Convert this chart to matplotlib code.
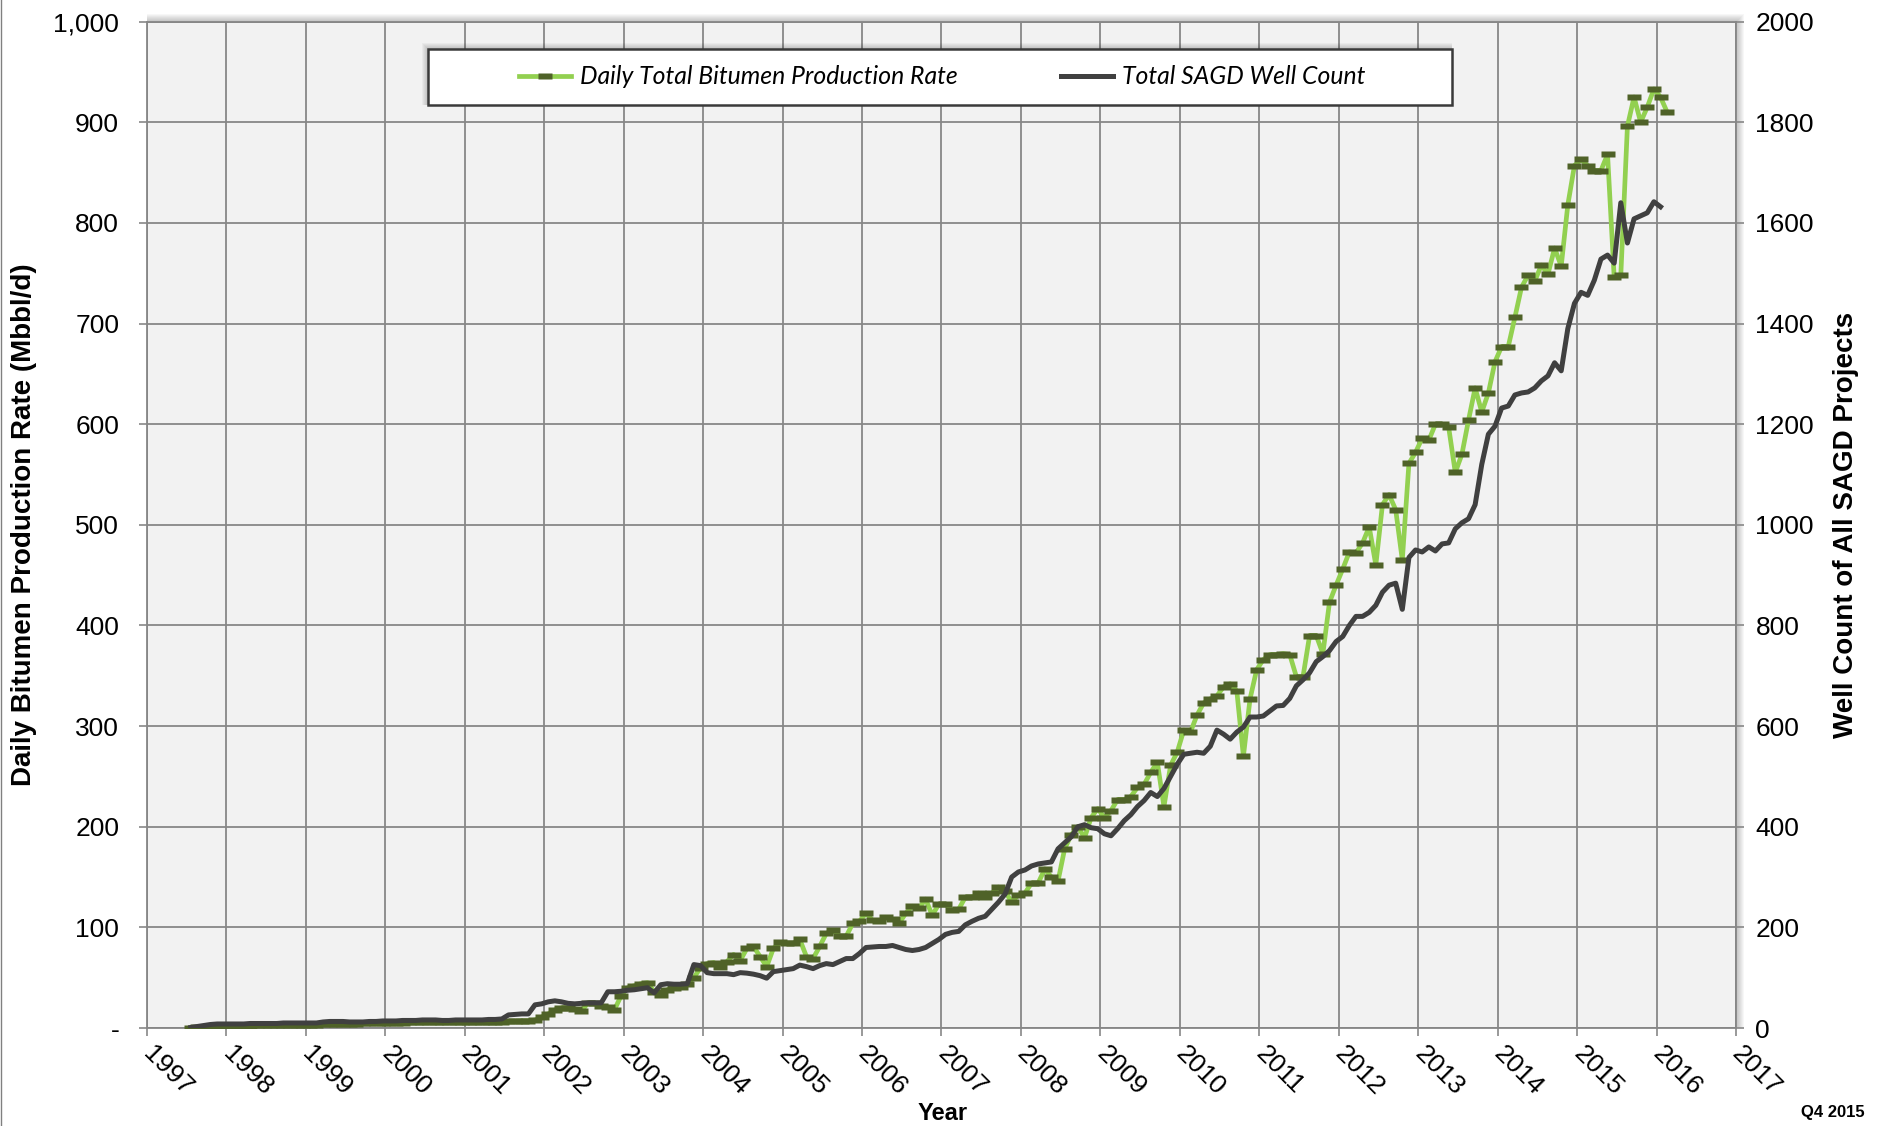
import numpy as np
import matplotlib.pyplot as plt
from matplotlib.patches import Rectangle
from matplotlib.lines import Line2D

# monthly samples, first one at about mid-1997
start = 1997.55

# Daily total bitumen production rate (Mbbl/d)
bitumen = [
    0, 0.5, 1, 1, 1.5,
    1.5, 2, 2, 2, 2, 2.5, 2.5, 2.5, 3, 3, 3, 3,
    3, 3, 3, 3.5, 4, 4, 4, 4, 4, 4.5, 4.5, 5,
    5, 5, 5, 5, 5.5, 5.5, 5.5, 6, 6, 6, 6, 6,
    6, 6, 6, 6, 6, 6, 6, 6.5, 6.5, 7, 7, 8,
    11, 14, 18, 20, 20, 19, 16.5, 25, 25, 22, 21, 18,
    32, 40, 42, 44, 45, 36, 33, 38, 40, 41, 44, 50,
    60, 64, 65, 61, 66, 73, 67, 79, 81, 71, 61, 79,
    85, 84, 84, 88, 71, 69, 81, 94, 97, 91, 91, 104,
    106, 114, 107, 106, 110, 108, 104, 114, 121, 119, 128, 112,
    123, 123, 117, 118, 130, 130, 134, 130, 134, 140, 136, 125,
    132, 134, 144, 144, 158, 150, 146, 178, 192, 200, 189, 209,
    218, 209, 216, 227, 227, 230, 239, 242, 254, 264, 220, 261,
    274, 296, 294, 311, 323, 327, 330, 339, 342, 335, 270, 327,
    356, 366, 371, 371, 372, 371, 349, 349, 390, 390, 372, 423,
    440, 456, 473, 472, 482, 498, 460, 520, 530, 515, 465, 561,
    572, 586, 584, 600, 600, 597, 552, 570, 604, 636, 612, 631,
    662, 677, 677, 706, 736, 748, 742, 758, 749, 775, 757, 818,
    857, 863, 857, 852, 852, 868, 746, 748, 896, 925, 900, 915,
    933, 925, 910,
]

# Total SAGD well count
wells = [
    1, 3, 5, 7, 8,
    8, 8, 8, 8, 9, 9, 9, 9, 9, 10, 10, 10,
    10, 10, 10, 12, 13, 13, 13, 12, 12, 12, 13, 13,
    14, 14, 14, 15, 15, 15, 16, 16, 16, 15, 15, 16,
    16, 16, 16, 16, 17, 17, 18, 26, 27, 28, 28, 46,
    48, 52, 54, 52, 49, 48, 49, 50, 50, 50, 72, 72,
    73, 75, 76, 78, 80, 70, 86, 88, 87, 87, 88, 126,
    124, 110, 108, 108, 108, 106, 110, 109, 107, 104, 99, 112,
    114, 116, 118, 125, 122, 118, 124, 128, 126, 132, 138, 138,
    148, 160, 161, 162, 162, 164, 160, 156, 154, 156, 160, 168,
    176, 186, 190, 192, 205, 212, 218, 222, 236, 250, 266, 300,
    310, 314, 322, 326, 328, 330, 356, 368, 380, 400, 404, 398,
    396, 386, 382, 396, 412, 424, 440, 452, 468, 460, 476, 500,
    524, 544, 546, 548, 546, 560, 592, 584, 574, 588, 598, 618,
    618, 620, 630, 640, 641, 655, 680, 692, 706, 728, 738, 750,
    768, 778, 800, 818, 818, 826, 840, 866, 880, 884, 832, 935,
    950, 946, 956, 948, 962, 964, 992, 1004, 1012, 1040, 1120, 1180,
    1196, 1232, 1236, 1258, 1262, 1264, 1272, 1286, 1296, 1322, 1306, 1390,
    1440, 1462, 1456, 1486, 1528, 1536, 1520, 1640, 1560, 1608, 1614, 1620,
    1642, 1632,
]

years = list(range(1997, 2018))
left_ticks = list(range(0, 1001, 100))
left_labels = ['-'] + [str(v) for v in range(100, 1000, 100)] + ['1,000']
right_ticks = list(range(0, 2001, 200))

x_bit = start + np.arange(len(bitumen)) / 12
x_wells = start + np.arange(len(wells)) / 12

W, H = 1879, 1126
plt.rcParams['font.family'] = ['Liberation Sans', 'DejaVu Sans']

fig = plt.figure(figsize=(W / 100, H / 100), dpi=100)
fig.patch.set_facecolor('white')

ax_l, ax_b, ax_r, ax_t = 147, 1028, 1736, 21.6
ax = fig.add_axes([ax_l / W, 1 - ax_b / H, (ax_r - ax_l) / W, (ax_b - ax_t) / H])
ax.set_facecolor('#F2F2F2')

# soft shadow above and right of the plot area
for k in range(1, 9):
    fig.patches.append(Rectangle((ax_l / W, 1 - ax_b / H), (ax_r - ax_l + k) / W,
                                 (ax_b - ax_t + k) / H, transform=fig.transFigure,
                                 facecolor='black', edgecolor='none', alpha=0.03, zorder=-1))

green = '#92D050'
olive = '#4F6228'
dark = '#404040'
grid_c = '#878787'

# short flat dash used as the point marker
bar = [(-1.3, -0.5), (1.3, -0.5), (1.3, 0.5), (-1.3, 0.5), (-1.3, -0.5)]

ax.plot(x_bit, bitumen, color=green, lw=3.4, marker=bar, markersize=9.5,
        markerfacecolor=olive, markeredgecolor='none', zorder=3)

ax.set_xlim(1997, 2017)
ax.set_ylim(0, 1000)
ax.set_xticks(years)
ax.set_xticklabels([str(y) for y in years], rotation=-45, ha='left', va='center',
                   rotation_mode='anchor')
ax.set_yticks(left_ticks)
ax.set_yticklabels(left_labels)
ax.grid(True, color=grid_c, lw=1.3)
ax.set_axisbelow(True)
ax.tick_params(axis='both', length=6, width=1.2, color=grid_c, labelsize=19)
ax.tick_params(axis='x', pad=10)
ax.tick_params(axis='y', pad=14)
for s in ax.spines.values():
    s.set_color(grid_c)
    s.set_linewidth(1.3)

ax2 = ax.twinx()
ax2.plot(x_wells, wells, color=dark, lw=3.6, zorder=4)
ax2.set_ylim(0, 2000)
ax2.set_yticks(right_ticks)
ax2.tick_params(axis='y', length=6, width=1.2, color=grid_c, labelsize=19, pad=8)
for s in ax2.spines.values():
    s.set_visible(False)

# axis titles
fig.text(24 / W, 1 - 525 / H, 'Daily Bitumen Production Rate (Mbbl/d)', rotation=90,
         fontsize=20, fontweight='bold', ha='center', va='center')
fig.text(1846 / W, 1 - 525 / H, 'Well Count of All SAGD Projects', rotation=90,
         fontsize=20, fontweight='bold', ha='center', va='center')
fig.text(943 / W, 1 - 1114 / H, 'Year', fontsize=17, fontweight='bold', ha='center', va='center')
fig.text(1833 / W, 1 - 1113 / H, 'Q4 2015', fontsize=12, fontweight='bold', ha='center', va='center')

# thin border on the left edge
fig.add_artist(Line2D([0.5 / W, 0.5 / W], [0, 1], transform=fig.transFigure, color='#808080', lw=1))

# legend box
lx0, ly0, lx1, ly1 = 428, 49, 1452, 105
for k in range(1, 7):
    fig.patches.append(Rectangle(((lx0 - k) / W, 1 - ly1 / H), (lx1 - lx0 + k) / W,
                                 (ly1 - ly0 + k) / H, transform=fig.transFigure,
                                 facecolor='black', edgecolor='none', alpha=0.035, zorder=4))
fig.patches.append(Rectangle((lx0 / W, 1 - ly1 / H), (lx1 - lx0) / W, (ly1 - ly0) / H,
                             transform=fig.transFigure, facecolor='white',
                             edgecolor='#3a3a3a', lw=1.8, zorder=5))

handles = [
    Line2D([], [], color=green, lw=3.4, marker=bar, markersize=9.5,
           markerfacecolor=olive, markeredgecolor='none'),
    Line2D([], [], color=dark, lw=3.6),
]
leg = fig.legend(handles, ['Daily Total Bitumen Production Rate', 'Total SAGD Well Count'],
                 loc='center', bbox_to_anchor=(942 / W, 1 - 77 / H), ncol=2, frameon=False,
                 prop={'family': ['Lato', 'DejaVu Sans'], 'style': 'italic', 'size': 17.8},
                 handlelength=2.1, handletextpad=0.35, columnspacing=4.2, numpoints=1)
leg.set_zorder(6)

fig.savefig('out.png', dpi=100)
